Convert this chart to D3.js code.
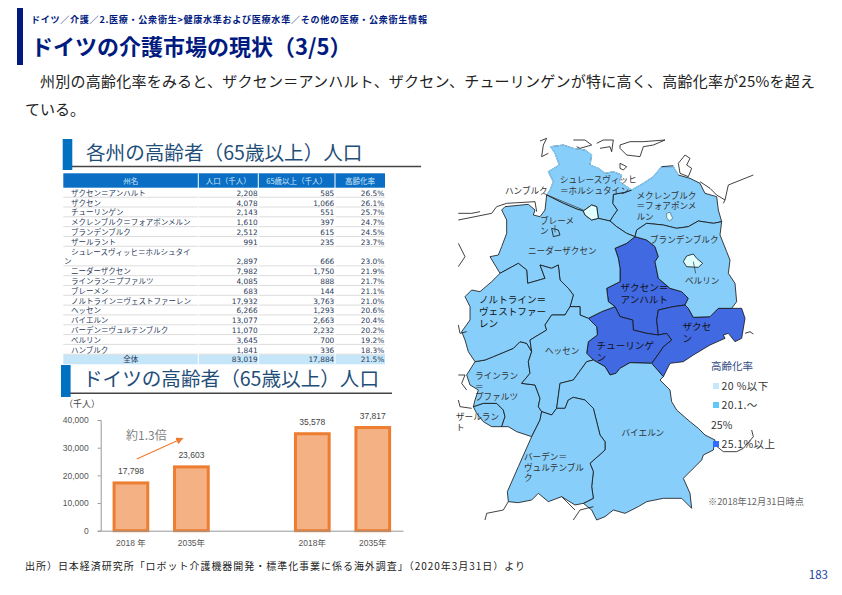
<!DOCTYPE html>
<html lang="ja">
<head>
<meta charset="UTF-8">
<script src="https://cdn.jsdelivr.net/npm/d3@7"></script>
<style>
    html, body { margin: 0; padding: 0; background: #fff; }
    svg { display: block; }
    text { font-family: "Noto Sans CJK JP", sans-serif; }
    .num { font-family: "DejaVu Sans", sans-serif; }
    .chartnum { font-family: "Liberation Sans", sans-serif; }
    .axis path, .axis line { stroke: #999; }
    .axis text { fill: #555; font-family: "Liberation Sans", "Noto Sans CJK JP", sans-serif; font-size: 8.5px; }
</style>
</head>
<body>
<script>
// table
var stateNames = ["ザクセン＝アンハルト", "ザクセン", "チューリンゲン", "メクレンブルク＝フォアポンメルン", "ブランデンブルク",
    "ザールラント", "シュレースヴィッヒ＝ホルシュタイン", "ニーダーザクセン", "ラインラン＝プファルツ", "ブレーメン",
    "ノルトライン＝ヴェストファーレン", "ヘッセン", "バイエルン", "バーデン＝ヴュルテンブルク", "ベルリン", "ハンブルク"];
var population = [2208, 4078, 2143, 1610, 2512, 991, 2897, 7982, 4085, 683, 17932, 6266, 13077, 11070, 3645, 1841];
var elderly = [585, 1066, 551, 397, 615, 235, 666, 1750, 888, 144, 3763, 1293, 2663, 2232, 700, 336];
var agingRate = [26.5, 26.1, 25.7, 24.7, 24.5, 23.7, 23.0, 21.9, 21.7, 21.1, 21.0, 20.6, 20.4, 20.2, 19.2, 18.3];
var totals = ["全体", 83019, 17884, 21.5];
var tableHeaders = ["州名", "人口（千人）", "65歳以上（千人）", "高齢化率"];

// bar chart
var barSlots = ["a", "b", "gap", "c", "d"];
var barYears = { a: "2018 年", b: "2035年", c: "2018年", d: "2035年" };
var barValues = { a: 17798, b: 23603, c: 35578, d: 37817 };
var yTicks = [0, 10000, 20000, 30000, 40000];

// map outlines, in map grid units (1/3 px, origin at the map corner)
var stateRings = {
    "シュレースヴィッヒ＝ホルシュタイン": [[290,180],[340,205],[380,222],[400,228],[425,210],[440,215],[445,250],[480,258],[488,245],[502,225],[488,205],[490,178],[525,172],[545,165],[530,155],[508,140],[515,120],[490,110],[465,115],[445,100],[420,90],[425,60],[405,45],[370,40],[340,30],[302,35],[315,55],[328,90],[295,110],[310,140],[300,165],[290,180]],
    "ハンブルク": [[400,228],[425,210],[440,215],[445,250],[425,255],[405,240],[400,228]],
    "メクレンブルク＝フォアポンメルン": [[480,258],[488,245],[502,225],[488,205],[490,178],[525,172],[545,165],[580,145],[610,125],[635,95],[670,95],[685,120],[720,130],[750,145],[765,175],[800,185],[805,225],[815,260],[790,265],[745,258],[715,275],[680,280],[640,270],[590,265],[560,285],[555,305],[530,295],[500,275],[480,258]],
    "ニーダーザクセン": [[165,215],[235,208],[255,225],[250,240],[270,245],[285,225],[290,180],[340,205],[380,222],[400,228],[405,240],[425,255],[445,250],[480,258],[500,275],[530,295],[555,305],[530,325],[495,340],[505,370],[510,400],[510,440],[470,460],[475,500],[495,515],[455,530],[415,550],[390,540],[390,515],[360,515],[370,480],[355,460],[330,435],[325,390],[305,400],[270,390],[285,430],[233,445],[230,405],[205,385],[150,415],[135,390],[120,365],[145,360],[155,335],[170,295],[170,255],[155,225],[165,215]],
    "ブレーメン": [[305,280],[325,285],[330,300],[310,305],[305,280]],
    "ブランデンブルク": [[555,305],[560,285],[590,265],[640,270],[680,280],[715,275],[745,258],[790,265],[815,260],[810,300],[830,350],[840,375],[835,415],[855,445],[860,500],[845,520],[805,520],[780,545],[730,547],[715,520],[705,510],[715,490],[695,470],[660,460],[625,430],[615,380],[625,365],[615,335],[590,315],[555,305]],
    "ベルリン": [[700,380],[710,363],[730,357],[740,370],[758,385],[745,397],[710,395],[700,380]],
    "ザクセン＝アンハルト": [[555,305],[530,325],[495,340],[505,370],[510,400],[510,440],[470,460],[475,500],[495,515],[510,545],[548,555],[550,585],[590,595],[625,600],[620,555],[625,525],[670,515],[705,510],[715,490],[695,470],[660,460],[625,430],[615,380],[625,365],[615,335],[590,315],[555,305]],
    "ザクセン": [[705,510],[670,515],[625,525],[620,555],[625,600],[650,595],[665,615],[640,635],[630,650],[605,685],[640,725],[660,685],[700,680],[730,660],[780,630],[825,610],[820,600],[835,595],[855,620],[875,610],[885,550],[875,520],[845,520],[805,520],[780,545],[730,547],[715,520],[705,510]],
    "チューリンゲン": [[415,550],[455,530],[495,515],[510,545],[548,555],[550,585],[590,595],[625,600],[650,595],[665,615],[640,635],[630,650],[605,685],[540,683],[510,700],[498,715],[480,720],[465,695],[430,675],[410,655],[415,620],[442,600],[440,575],[415,550]],
    "ノルトライン＝ヴェストファーレン": [[150,415],[205,385],[230,405],[233,445],[285,430],[270,390],[305,400],[325,390],[330,435],[355,460],[370,480],[360,515],[345,540],[305,540],[285,570],[290,585],[240,615],[245,650],[230,625],[210,620],[190,640],[130,665],[105,675],[75,680],[55,650],[45,615],[35,590],[60,555],[60,515],[45,485],[65,465],[90,470],[125,440],[150,415]],
    "ヘッセン": [[360,515],[390,515],[390,540],[415,550],[440,575],[442,600],[415,620],[410,655],[430,675],[410,680],[370,735],[330,745],[320,820],[305,840],[275,830],[265,815],[270,790],[255,750],[215,745],[240,715],[235,680],[245,650],[240,615],[290,585],[285,570],[305,540],[345,540],[360,515]],
    "ラインラン＝プファルツ": [[245,650],[235,680],[240,715],[215,745],[255,750],[270,790],[265,815],[275,830],[270,855],[245,905],[200,890],[175,875],[155,875],[165,845],[160,825],[140,805],[100,805],[70,815],[75,795],[85,765],[60,750],[50,720],[75,680],[105,675],[130,665],[190,640],[210,620],[230,625],[245,650]],
    "ザールラント": [[70,815],[100,805],[140,805],[160,825],[165,845],[155,875],[125,875],[100,860],[80,835],[70,815]],
    "バーデン＝ヴュルテンブルク": [[245,905],[270,855],[275,830],[305,840],[320,820],[345,820],[355,795],[370,787],[405,795],[430,820],[450,900],[465,920],[465,945],[420,985],[430,1010],[425,1055],[430,1090],[400,1105],[375,1110],[335,1085],[295,1100],[265,1075],[245,1095],[205,1103],[175,1100],[172,1070],[205,995],[245,905]],
    "バイエルン": [[430,675],[465,695],[480,720],[498,715],[510,700],[540,683],[605,685],[640,725],[630,735],[660,765],[665,800],[680,825],[720,860],[745,880],[765,900],[795,915],[790,945],[760,960],[755,975],[700,1030],[720,1075],[725,1120],[695,1090],[640,1090],[590,1100],[565,1115],[525,1135],[490,1125],[465,1145],[440,1155],[425,1125],[400,1105],[430,1090],[425,1055],[430,1010],[420,985],[465,945],[465,920],[450,900],[430,820],[405,795],[370,787],[355,795],[345,820],[320,820],[330,745],[370,735],[410,680],[430,675]]
};
// stretches of coast that show no border line
var bareCoast = [
    [[545,165],[530,155],[508,140],[515,120],[490,110],[465,115],[445,100],[420,90],[425,60],[405,45],[370,40],[340,30],[302,35],[315,55],[328,90],[295,110],[310,140],[300,165],[290,180]],
    [[545,165],[580,145],[610,125],[635,95],[670,95],[685,120]]
];
// islands and neighbouring borders, outline only
var outsideLines = [
    [[270,18],[290,10],[280,30],[275,65],[295,55]], [[370,15],[405,15],[425,30],[390,40],[380,35]],
    [[440,25],[460,15],[490,15],[485,50],[480,35],[450,40]],
    [[510,30],[540,20],[580,20],[645,15],[610,30],[580,35],[570,65],[530,60],[510,40],[510,30]],
    [[510,85],[530,95],[520,105],[510,100],[510,85]], [[635,95],[670,92]],
    [[685,85],[705,60],[720,70],[710,90],[725,100],[715,125],[690,115],[685,85]],
    [[750,140],[780,160],[800,180],[825,195],[820,205]], [[825,195],[835,150],[910,120]],
    [[25,235],[65,235],[90,230]], [[25,255],[75,245],[125,235],[140,215],[170,205],[255,200],[260,230]],
    [[25,325],[45,365],[25,395]],
    [[25,570],[30,595],[50,590]], [[25,720],[45,720],[35,745],[50,765]], [[25,795],[30,815],[65,820]],
    [[105,1155],[110,1135],[160,1125],[175,1100]], [[370,1155],[390,1125],[430,1115]],
    [[335,1085],[375,1125]], [[885,595],[900,590],[910,597]],
    [[905,885],[910,905],[880,940],[860,950],[820,950],[795,930]]
];
var lakes = [[[650,235],[660,232],[668,250],[658,258],[650,248],[650,235]]];

var mapLabels = [
    { lines: ["シュレースヴィッヒ", "＝ホルシュタイン"], x: 560, y: 183 },
    { lines: ["ハンブルク"], x: 505, y: 194 },
    { lines: ["ブレーメ", "ン"], x: 540, y: 223.5 },
    { lines: ["メクレンブルク", "＝フォアポンメ", "ルン"], x: 636.5, y: 198.5 },
    { lines: ["ブランデンブルク"], x: 650, y: 242.5 },
    { lines: ["ニーダーザクセン"], x: 528, y: 254 },
    { lines: ["ベルリン"], x: 685, y: 283.5 },
    { lines: ["ザクセン＝", "アンハルト"], x: 620.5, y: 291, big: true },
    { lines: ["ノルトライン＝", "ヴェストファー", "レン"], x: 479, y: 302.5, big: true },
    { lines: ["ザクセ", "ン"], x: 682.5, y: 330, big: true },
    { lines: ["チューリンゲ", "ン"], x: 596.5, y: 348.5, big: true },
    { lines: ["ヘッセン"], x: 545, y: 354 },
    { lines: ["ラインラン", "＝", "プファルツ"], x: 475, y: 379 },
    { lines: ["ザールラン", "ト"], x: 456, y: 420 },
    { lines: ["バイエルン"], x: 621.5, y: 436 },
    { lines: ["バーデン＝", "ヴュルテンブル", "ク"], x: 524, y: 460 }
];
var leaders = [[[280,175],[400,225]], [[315,270],[315,292]], [[730,380],[737,415]]];

var legendItems = [
    { label: ["20 %以下"], rate: 18 },
    { label: ["20.1.～", "25%"], rate: 22 },
    { label: ["25.1%以上"], rate: 26 }
];

var svg = d3.select("body").append("svg").attr("width", 842).attr("height", 595);
var navy = "#001a80", headBlue = "#0070c0", headText = "#1f4e79";

// page header
svg.append("rect").attr("x", 17).attr("y", 8).attr("width", 6).attr("height", 57).attr("fill", navy);
svg.append("text").attr("x", 31).attr("y", 23).attr("fill", navy).attr("font-weight", 700).attr("font-size", 9.1)
    .attr("textLength", 396).text("ドイツ／介護／2.医療・公衆衛生>健康水準および医療水準／その他の医療・公衆衛生情報");
svg.append("text").attr("x", 31).attr("y", 55).attr("fill", navy).attr("font-weight", 700).attr("font-size", 22)
    .text("ドイツの介護市場の現状（3/5）");
svg.append("text").attr("x", 40).attr("y", 87).attr("fill", "#222").attr("font-size", 15)
    .attr("textLength", 775).text("州別の高齢化率をみると、ザクセン＝アンハルト、ザクセン、チューリンゲンが特に高く、高齢化率が25%を超え");
svg.append("text").attr("x", 25).attr("y", 115).attr("fill", "#222").attr("font-size", 15).text("ている。");

function sectionHead(boxX, boxY, boxH, lineY, lineEnd, textX, textY, size, label) {
    svg.append("line").attr("x1", boxX + 9).attr("x2", lineEnd).attr("y1", lineY).attr("y2", lineY)
        .attr("stroke", "#444").attr("stroke-width", 1.4);
    svg.append("rect").attr("x", boxX).attr("y", boxY).attr("width", 9.6).attr("height", boxH).attr("fill", headBlue);
    svg.append("text").attr("x", textX).attr("y", textY).attr("fill", headText).attr("font-size", size).text(label);
}
sectionHead(62.7, 139, 31, 166.5, 421, 86, 160, 19.6, "各州の高齢者（65歳以上）人口");
sectionHead(61, 365, 32, 393.3, 392, 83, 385.5, 19.6, "ドイツの高齢者（65歳以上）人口");

// table
var colEdges = [63.3, 198.3, 258.3, 335, 385];
var rowY = d3.scaleLinear().domain([0, 18]).range([187.7, 364.3]);
var table = svg.append("g");
table.append("rect").attr("x", colEdges[0]).attr("y", 173.3).attr("width", colEdges[4] - colEdges[0])
    .attr("height", rowY(0) - 173.3).attr("fill", "#0a6ec4");
table.selectAll(".th").data(tableHeaders).enter().append("text").attr("class", "th")
    .attr("x", function (d, i) { return (colEdges[i] + colEdges[i + 1]) / 2; }).attr("y", 183.5)
    .attr("text-anchor", "middle").attr("fill", "#cfe6f7").attr("font-size", 7.5).text(function (d) { return d; });

var fmt = d3.format(",");
var rowUnits = 0;
var tableRows = stateNames.map(function (name, i) {
    var h = name === "シュレースヴィッヒ＝ホルシュタイン" ? 2 : 1;
    var r = { name: name, pop: population[i], old: elderly[i], rate: agingRate[i], top: rowUnits, h: h };
    rowUnits += h;
    return r;
});
table.append("rect").attr("x", colEdges[0]).attr("y", rowY(17)).attr("width", colEdges[4] - colEdges[0])
    .attr("height", rowY(18) - rowY(17)).attr("fill", "#c5e6f8");
var row = table.selectAll(".row").data(tableRows).enter().append("g").attr("class", "row");
row.append("line").attr("x1", colEdges[0]).attr("x2", colEdges[4])
    .attr("y1", function (d) { return rowY(d.top + d.h) - 0.3; }).attr("y2", function (d) { return rowY(d.top + d.h) - 0.3; })
    .attr("stroke", "#dcdcdc").attr("stroke-width", 1);
row.each(function (d) {
    var g = d3.select(this), base = rowY(d.top + d.h) - 1.8;
    if (d.h === 2) {
        g.append("text").attr("x", 71).attr("y", base - 9.6).attr("font-size", 7.5).attr("fill", "#2a3a5a").text(d.name.slice(0, -1));
        g.append("text").attr("x", 64).attr("y", base).attr("font-size", 7.5).attr("fill", "#2a3a5a").text(d.name.slice(-1));
    } else {
        g.append("text").attr("x", 71).attr("y", base).attr("font-size", 7.5).attr("fill", "#2a3a5a").text(d.name);
    }
    [fmt(d.pop), fmt(d.old), d.rate.toFixed(1) + "%"].forEach(function (v, i) {
        g.append("text").attr("class", "num").attr("x", colEdges[i + 2] - 0.7).attr("y", base).attr("text-anchor", "end")
            .attr("font-size", 7.4).attr("fill", "#2a3a5a").text(v);
    });
});
table.append("text").attr("x", (colEdges[0] + colEdges[1]) / 2).attr("y", rowY(18) - 2).attr("text-anchor", "middle")
    .attr("font-size", 7.5).attr("fill", "#2a3a5a").text(totals[0]);
[fmt(totals[1]), fmt(totals[2]), totals[3].toFixed(1) + "%"].forEach(function (v, i) {
    table.append("text").attr("class", "num").attr("x", colEdges[i + 2] - 0.7).attr("y", rowY(18) - 2).attr("text-anchor", "end")
        .attr("font-size", 7.4).attr("fill", "#2a3a5a").text(v);
});
table.selectAll(".vline").data(colEdges.slice(1, 4)).enter().append("line").attr("class", "vline")
    .attr("x1", function (d) { return d; }).attr("x2", function (d) { return d; })
    .attr("y1", 173.3).attr("y2", rowY(18)).attr("stroke", "#fff").attr("stroke-width", 1);

// bar chart
var x = d3.scaleBand().domain(barSlots).range([100.7, 403]).paddingInner(0.393).paddingOuter(0.1965);
var y = d3.scaleLinear().domain([0, 40000]).range([530.7, 420]);
svg.append("g").attr("class", "axis").attr("transform", "translate(100.7,0)")
    .call(d3.axisLeft(y).tickValues(yTicks).tickSize(3).tickPadding(9).tickFormat(fmt));
var barKeys = barSlots.filter(function (k) { return k !== "gap"; });
svg.selectAll(".bar").data(barKeys).enter().append("rect").attr("class", "bar")
    .attr("x", function (k) { return x(k) + 1.5; }).attr("width", x.bandwidth() - 3)
    .attr("y", function (k) { return y(barValues[k]) + 1.5; })
    .attr("height", function (k) { return y(0) - y(barValues[k]) - 1.5; })
    .attr("fill", "#f4b183").attr("stroke", "#ed7d31").attr("stroke-width", 3);
svg.append("g").attr("class", "axis").attr("transform", "translate(0,530.7)")
    .call(d3.axisBottom(x).tickValues(barKeys).tickSize(0).tickPadding(9).tickSizeOuter(0)
        .tickFormat(function (k) { return barYears[k]; }));
svg.selectAll(".barval").data(barKeys).enter().append("text").attr("class", "chartnum barval")
    .attr("x", function (k) { return x(k) + x.bandwidth() / 2; })
    .attr("y", function (k) { return y(barValues[k]) - 7; })
    .attr("text-anchor", "middle").attr("font-size", 8.5).attr("fill", "#444")
    .text(function (k) { return fmt(barValues[k]); });
svg.append("text").attr("x", 64).attr("y", 407).attr("font-size", 9).attr("fill", "#444").text("（千人）");
svg.append("text").attr("x", 126).attr("y", 439.5).attr("font-size", 12).attr("fill", "#7f7f7f").text("約1.3倍");
svg.append("defs").append("marker").attr("id", "head").attr("viewBox", "0 0 10 10").attr("refX", 9).attr("refY", 5)
    .attr("markerWidth", 6).attr("markerHeight", 6).attr("orient", "auto")
    .append("path").attr("d", "M0,0L10,5L0,10z").attr("fill", "#ed7d31");
svg.append("line").attr("x1", 136.7).attr("y1", 459).attr("x2", 182.7).attr("y2", 438.3)
    .attr("stroke", "#ed7d31").attr("stroke-width", 1.2).attr("marker-end", "url(#head)");

// map
var midBlue = "#87cefa";
var rateColor = d3.scaleThreshold().domain([20.05, 25.05]).range(["#e0ffff", midBlue, "#4169e1"]);
var features = stateNames.map(function (name, i) {
    return { type: "Feature", properties: { name: name, rate: agingRate[i] },
        geometry: { type: "Polygon", coordinates: [stateRings[name]] } };
});
var projection = d3.geoIdentity().scale(1 / 3).translate([450, 135]);
var geoPath = d3.geoPath(projection);
function linePath(d) { return geoPath({ type: "LineString", coordinates: d }); }
var map = svg.append("g");
map.selectAll(".state").data(features).enter().append("path").attr("class", "state")
    .attr("d", geoPath).attr("fill", function (d) { return rateColor(d.properties.rate); })
    .attr("stroke", "#111").attr("stroke-width", 0.8).attr("stroke-linejoin", "round");
map.selectAll(".coast").data(bareCoast).enter().append("path").attr("class", "coast")
    .attr("d", linePath).attr("fill", "none").attr("stroke", midBlue).attr("stroke-width", 1.2);
map.selectAll(".lake").data(lakes).enter().append("path").attr("class", "lake")
    .attr("d", function (d) { return geoPath({ type: "Polygon", coordinates: [d] }); })
    .attr("fill", "#e0ffff").attr("stroke", "#333").attr("stroke-width", 0.5);
map.selectAll(".outside").data(outsideLines).enter().append("path").attr("class", "outside")
    .attr("d", linePath).attr("fill", "none").attr("stroke", "#111").attr("stroke-width", 0.8);
map.selectAll(".leader").data(leaders).enter().append("path").attr("class", "leader")
    .attr("d", linePath).attr("fill", "none").attr("stroke", "#333").attr("stroke-width", 0.7);
mapLabels.forEach(function (lab) {
    var size = lab.big ? 9.6 : 8.6, lead = lab.big ? 12.3 : 10.5;
    lab.lines.forEach(function (line, i) {
        svg.append("text").attr("x", lab.x).attr("y", lab.y + i * lead).attr("font-size", size)
            .attr("fill", lab.big ? "#111" : "#333").text(line);
    });
});

// legend
svg.append("text").attr("x", 711).attr("y", 370).attr("font-size", 10.5).attr("fill", "#2f4a80").text("高齢化率");
var legendY = [386, 405, 444];
legendItems.forEach(function (item, i) {
    var sw = [ "#c6e8fb", "#5fc8f8", "#2f6bff" ][i];
    svg.append("rect").attr("x", 713).attr("y", legendY[i] - 3).attr("width", 6).attr("height", 6).attr("fill", sw);
    svg.append("text").attr("x", 721.5).attr("y", legendY[i] + 4).attr("font-size", 10.5).attr("fill", "#333")
        .attr("letter-spacing", 0.4).text(item.label[0]);
    if (item.label[1]) svg.append("text").attr("x", 711).attr("y", legendY[i] + 24).attr("font-size", 10.5)
        .attr("fill", "#333").text(item.label[1]);
});
svg.append("text").attr("x", 708).attr("y", 505).attr("font-size", 9.2).attr("fill", "#666").text("※2018年12月31日時点");

// footer
svg.append("text").attr("x", 25).attr("y", 570).attr("font-size", 10).attr("fill", "#222")
    .attr("textLength", 500).text("出所）日本経済研究所「ロボット介護機器開発・標準化事業に係る海外調査」（2020年3月31日）より");
svg.append("text").attr("x", 828).attr("y", 579).attr("text-anchor", "end").attr("font-size", 11.5).attr("fill", "#1a3e9e").text("183");
</script>
</body>
</html>
